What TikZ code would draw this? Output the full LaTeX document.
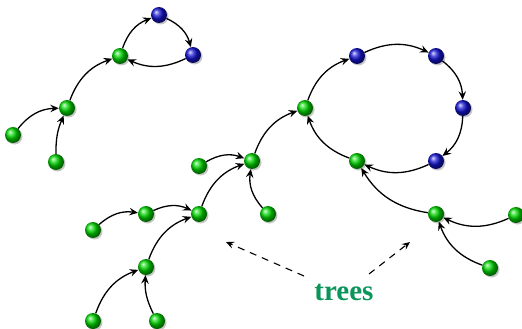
\documentclass[tikz,border=0pt]{standalone}
\usepackage{fontspec}
\setmainfont{Liberation Serif}
\usetikzlibrary{shadows,arrows.meta}
\definecolor{treegreen}{RGB}{10,150,90}
\definecolor{gball}{RGB}{0,215,0}
\definecolor{bball}{RGB}{20,20,210}
\tikzset{
  gnode/.style={circle,minimum size=16pt,inner sep=0pt,ball color=gball,
    drop shadow={shadow xshift=1.5pt,shadow yshift=-1.5pt,opacity=0.45}},
  bnode/.style={circle,minimum size=16pt,inner sep=0pt,ball color=bball,
    drop shadow={shadow xshift=1.5pt,shadow yshift=-1.5pt,opacity=0.45}},
  link/.style={-{Stealth[length=8.5pt,width=7.5pt,inset=3pt]},line width=1.3pt,bend left=25},
  hint/.style={-{Stealth[length=8pt,width=7pt,inset=3pt]},line width=1.1pt,dash pattern=on 7pt off 6pt}
}
\begin{document}
\begin{tikzpicture}[x=1pt,y=-1pt]
\useasboundingbox (0,0) rectangle (522,329);
% left component
\node[gnode] (a1) at (13,135) {};
\node[gnode] (a2) at (56,162) {};
\node[gnode] (a3) at (67,108) {};
\node[gnode] (a4) at (120,56) {};
\node[bnode] (b1) at (159,15) {};
\node[bnode] (b2) at (193,55) {};
% right component
\node[bnode] (c1) at (357,56) {};
\node[bnode] (c2) at (436,56) {};
\node[bnode] (c3) at (463,108) {};
\node[bnode] (c4) at (436,161) {};
\node[gnode] (d1) at (305,108) {};
\node[gnode] (d2) at (357,161) {};
\node[gnode] (d3) at (436,214) {};
\node[gnode] (d4) at (516,215) {};
\node[gnode] (d5) at (490,268) {};
\node[gnode] (e1) at (252,161) {};
\node[gnode] (e2) at (199,166) {};
\node[gnode] (e3) at (268,214) {};
\node[gnode] (f1) at (199,214) {};
\node[gnode] (f2) at (146,214) {};
\node[gnode] (f3) at (93,230) {};
\node[gnode] (g1) at (146,267) {};
\node[gnode] (g2) at (93,321) {};
\node[gnode] (g3) at (157,321) {};
% edges
\draw[link] (a1) to (a3);
\draw[link,bend left=12] (a2) to (a3);
\draw[link] (a3) to (a4);
\draw[link] (a4) to (b1);
\draw[link] (b1) to (b2);
\draw[link] (b2) to (a4);
\draw[link] (e1) to (d1);
\draw[link] (d1) to (c1);
\draw[link] (c1) to (c2);
\draw[link] (c2) to (c3);
\draw[link] (c3) to (c4);
\draw[link] (c4) to (d2);
\draw[link] (d2) to (d1);
\draw[link] (d3) to (d2);
\draw[link] (d4) to (d3);
\draw[link] (d5) to (d3);
\draw[link] (e2) to (e1);
\draw[link] (e3) to (e1);
\draw[link] (f1) to (e1);
\draw[link] (f2) to (f1);
\draw[link] (f3) to (f2);
\draw[link] (g1) to (f1);
\draw[link] (g2) to (g1);
\draw[link,bend left=15] (g3) to (g1);
% label
\node[text=treegreen,font=\fontsize{29}{33}\selectfont\bfseries] (t) at (344,292) {trees};
\coordinate (s1) at (304,276);
\coordinate (s2) at (369,274);
\coordinate (h1) at (226,242);
\coordinate (h2) at (410,242);
\draw[hint] (s1) -- (h1);
\draw[hint] (s2) -- (h2);
\end{tikzpicture}
\end{document}
